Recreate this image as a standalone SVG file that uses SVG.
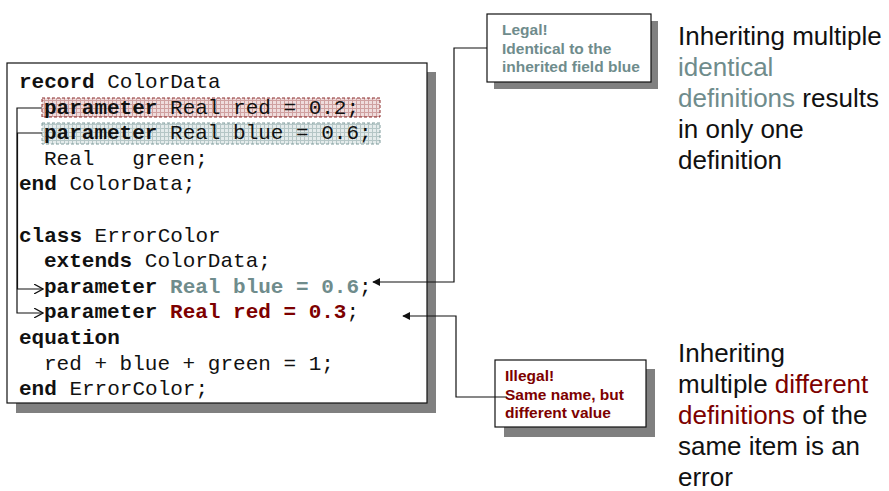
<svg xmlns="http://www.w3.org/2000/svg" width="889" height="491" viewBox="0 0 889 491">
<style>
.code{font-family:"Liberation Mono","Courier New",monospace;font-size:21px;fill:#111;white-space:pre}
.kw{font-weight:bold}
.box{fill:#fff;stroke:#111;stroke-width:1.2}
.shadow{fill:#808080}
.note{font-family:"Liberation Sans",Arial,sans-serif;font-size:15.5px;font-weight:bold}
.big{font-family:"Liberation Sans",Arial,sans-serif;font-size:26px;fill:#111}
.conn{fill:none;stroke:#111;stroke-width:1.2}
.teal{fill:#6F8C8C}
.dred{fill:#7D0000}
</style>
<defs>
<pattern id="gridRed" width="4" height="4" patternUnits="userSpaceOnUse">
<rect width="4" height="4" fill="#EFDCDC"/>
<path d="M0 0.5H4M0.5 0V4" stroke="#CFA0A0" stroke-width="1"/>
</pattern>
<pattern id="gridBlue" width="4" height="4" patternUnits="userSpaceOnUse">
<rect width="4" height="4" fill="#E4EBEB"/>
<path d="M0 0.5H4M0.5 0V4" stroke="#B5C6C6" stroke-width="1"/>
</pattern>
<marker id="filled" viewBox="0 0 10 10" refX="9" refY="5" markerWidth="8" markerHeight="8" markerUnits="userSpaceOnUse" orient="auto">
<path d="M0 0L10 5L0 10Z" fill="#111"/>
</marker>
<marker id="open" viewBox="0 0 10 10" refX="9" refY="5" markerWidth="10" markerHeight="10" markerUnits="userSpaceOnUse" orient="auto">
<path d="M0 0L9 5L0 10" fill="none" stroke="#111" stroke-width="1.2"/>
</marker>
</defs>

<g id="code">
<rect class="shadow" x="16" y="72" width="420" height="341"/>
<rect class="box" x="7" y="63" width="420" height="340"/>
<rect x="42" y="98" width="338" height="19" fill="url(#gridRed)" stroke="#8B2A2A" stroke-width="1" stroke-dasharray="3,2"/>
<rect x="42" y="123" width="338" height="21" fill="url(#gridBlue)" stroke="#7E9C9C" stroke-width="1" stroke-dasharray="3,2"/>
<text class="code" x="19" y="88"><tspan class="kw">record</tspan> ColorData</text>
<text class="code" x="44" y="113.6"><tspan class="kw">parameter</tspan> Real red = 0.2;</text>
<text class="code" x="44" y="139.2"><tspan class="kw">parameter</tspan> Real blue = 0.6;</text>
<text class="code" x="44" y="164.8">Real   green;</text>
<text class="code" x="19" y="190.4"><tspan class="kw">end</tspan> ColorData;</text>
<text class="code" x="19" y="241.6"><tspan class="kw">class</tspan> ErrorColor</text>
<text class="code" x="44" y="267.2"><tspan class="kw">extends</tspan> ColorData;</text>
<text class="code" x="44" y="292.8"><tspan class="kw">parameter</tspan> <tspan class="kw teal">Real blue = 0.6</tspan>;</text>
<text class="code" x="44" y="318.4"><tspan class="kw">parameter</tspan> <tspan class="kw dred">Real red = 0.3</tspan>;</text>
<text class="code" x="19" y="344"><tspan class="kw">equation</tspan></text>
<text class="code" x="44" y="369.6">red + blue + green = 1;</text>
<text class="code" x="19" y="395.2"><tspan class="kw">end</tspan> ErrorColor;</text>
</g>

<g id="legal">
<rect class="shadow" x="494" y="21" width="164" height="68"/>
<rect class="box" x="487" y="14" width="164" height="68"/>
<text class="note teal" x="502" y="35">Legal!</text>
<text class="note teal" x="502" y="53.5">Identical to the</text>
<text class="note teal" x="502" y="72">inherited field blue</text>
</g>

<g id="illegal">
<rect class="shadow" x="504" y="369" width="151" height="68"/>
<rect class="box" x="495" y="360" width="151" height="67"/>
<text class="note dred" x="505" y="381">Illegal!</text>
<text class="note dred" x="505" y="399.5">Same name, but</text>
<text class="note dred" x="505" y="418">different value</text>
</g>

<g id="connectors">
<polyline class="conn" points="42,108 17,108 17,313 43,313" marker-end="url(#open)"/>
<polyline class="conn" points="42,133 17.5,133 17.5,289 43,289" marker-end="url(#open)"/>
<polyline class="conn" points="487,48 454,48 454,282 373,282" marker-end="url(#filled)"/>
<polyline class="conn" points="507,397 456,397 456,316 403,316" marker-end="url(#filled)"/>
</g>

<g id="note-identical">
<text class="big" x="678" y="45">Inheriting multiple</text>
<text class="big" x="678" y="76"><tspan class="teal">identical</tspan></text>
<text class="big" x="678" y="107"><tspan class="teal">definitions</tspan> results</text>
<text class="big" x="678" y="138">in only one</text>
<text class="big" x="678" y="169">definition</text>
</g>

<g id="note-different">
<text class="big" x="678" y="362">Inheriting</text>
<text class="big" x="678" y="393">multiple <tspan class="dred">different</tspan></text>
<text class="big" x="678" y="424"><tspan class="dred">definitions</tspan> of the</text>
<text class="big" x="678" y="455">same item is an</text>
<text class="big" x="678" y="486">error</text>
</g>
</svg>
